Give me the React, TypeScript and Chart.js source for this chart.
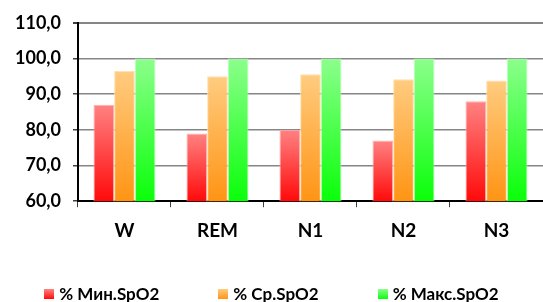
import React, { useEffect, useRef } from "react";
import { Chart, registerables } from "chart.js";

Chart.register(...registerables);

const categories = ["W", "REM", "N1", "N2", "N3"];
const seriesLabels = ["% Мин.SpO2", "% Ср.SpO2", "% Макс.SpO2"];
const minSpO2 = [87, 79, 80, 77, 88];
const avgSpO2 = [96.5, 95, 95.6, 94.2, 93.8];
const maxSpO2 = [100, 100, 100, 100, 100];
const yMin = 60;
const yMax = 110;
const yStep = 10;

const gradients = [
  { top: "#ff8282", bottom: "#ff0a0a", border: "#ffb0b0" },
  { top: "#ffcc80", bottom: "#ff9414", border: "#ffe0b0" },
  { top: "#8cff8c", bottom: "#0aff0a", border: "#b8ffb8" },
];

const FONT = "Lato, 'Open Sans', sans-serif";

function barFill(idx: number) {
  return (ctx: any) => {
    const g = gradients[idx];
    if (ctx.type !== "data") return g.top;
    const chart = ctx.chart;
    const y = chart.scales?.y;
    if (!chart.chartArea || !y) return g.top;
    const top = y.getPixelForValue(ctx.raw);
    const bottom = y.getPixelForValue(yMin);
    if (!isFinite(top) || !isFinite(bottom) || top === bottom) return g.top;
    const grad = chart.ctx.createLinearGradient(0, top, 0, bottom);
    grad.addColorStop(0, g.top);
    grad.addColorStop(1, g.bottom);
    return grad;
  };
}

export default function App() {
  const canvasRef = useRef<HTMLCanvasElement | null>(null);

  useEffect(() => {
    document.body.style.margin = "0";
    const canvas = canvasRef.current;
    if (!canvas) return;
    const values = [minSpO2, avgSpO2, maxSpO2];
    const chart = new Chart(canvas, {
      type: "bar",
      data: {
        labels: categories,
        datasets: seriesLabels.map((label, i) => ({
          label,
          data: values[i],
          backgroundColor: barFill(i),
          borderColor: gradients[i].border,
          borderWidth: 1,
          categoryPercentage: 0.667,
          barPercentage: 1.0,
        })),
      },
      options: {
        responsive: false,
        animation: false,
        devicePixelRatio: 1,
        layout: { padding: { left: 3, top: 22, right: 0, bottom: 48 } },
        plugins: {
          legend: { display: false },
          tooltip: { enabled: false },
        },
        scales: {
          x: {
            grid: {
              display: true,
              drawOnChartArea: false,
              drawTicks: true,
              tickLength: 6,
              color: "#404040",
              offset: true,
            },
            border: { display: true, color: "#000000", width: 2 },
            ticks: {
              color: "#000000",
              font: { family: FONT, size: 19, weight: "bold" },
              padding: 12,
            },
          },
          y: {
            min: yMin,
            max: yMax,
            grid: {
              color: "#858585",
              lineWidth: (c: any) => (c.tick && c.tick.value === yMax ? 2 : 1.5),
              drawTicks: true,
              tickLength: 5,
              tickColor: "#404040",
            },
            border: { display: true, color: "#000000", width: 2 },
            ticks: {
              stepSize: yStep,
              color: "#000000",
              font: { family: FONT, size: 18, weight: "bold" },
              padding: 12,
              callback: (v: any) => Number(v).toFixed(1).replace(".", ","),
            },
          },
        },
      },
    });
    return () => chart.destroy();
  }, []);

  return (
    <div style={{ position: "relative", width: 543, height: 302, background: "#fff" }}>
      <canvas ref={canvasRef} width={543} height={302} style={{ width: 543, height: 302, display: "block" }} />
      <div
        style={{
          position: "absolute",
          left: 0,
          top: 284,
          width: 543,
          height: 20,
          display: "flex",
          alignItems: "center",
          justifyContent: "center",
          gap: 59,
          fontFamily: FONT,
          fontSize: 17,
          fontWeight: "bold",
          color: "#000",
          lineHeight: "20px",
        }}
      >
        {seriesLabels.map((label, i) => (
          <div key={label} style={{ display: "flex", alignItems: "center" }}>
            <span
              style={{
                display: "inline-block",
                width: 10,
                height: 10,
                marginRight: 5,
                background: `linear-gradient(${gradients[i].top}, ${gradients[i].bottom})`,
              }}
            />
            <span>{label}</span>
          </div>
        ))}
      </div>
    </div>
  );
}
